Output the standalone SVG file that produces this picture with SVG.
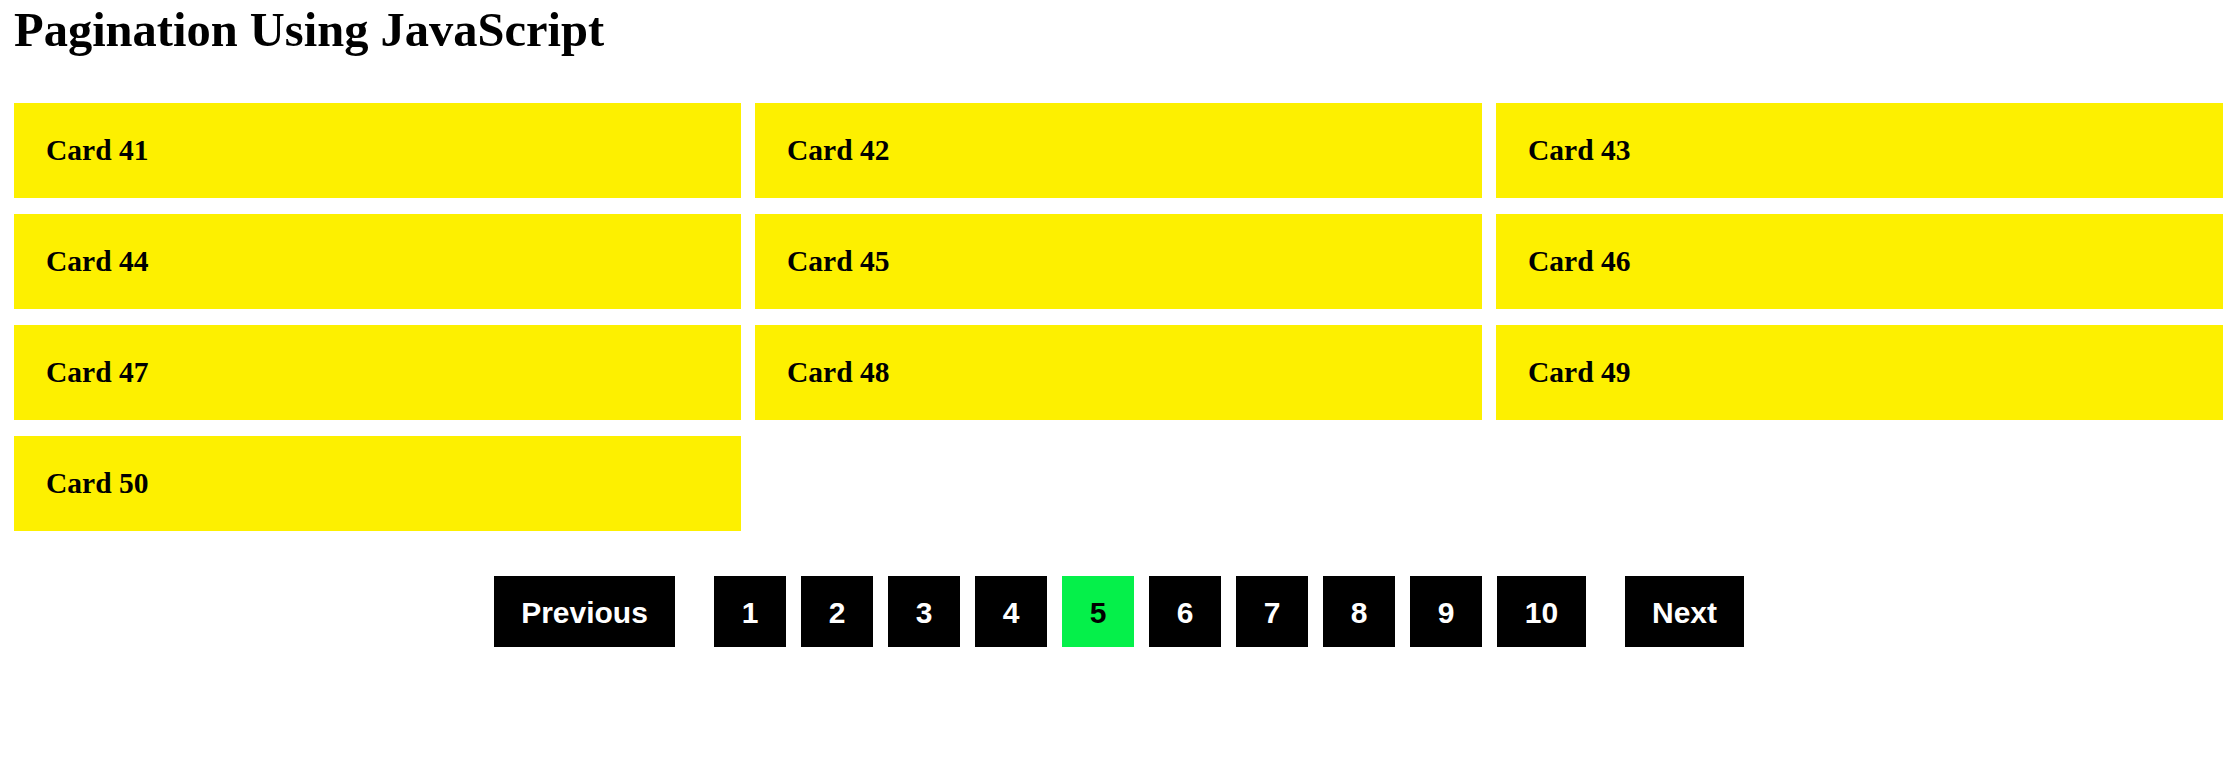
<svg xmlns="http://www.w3.org/2000/svg" width="2234" height="767" viewBox="0 0 2234 767">
<style>
.title{font-family:"Liberation Serif","Times New Roman",serif;font-weight:bold;font-size:48.5px;fill:#000}
.card rect{fill:#fdf000}
.card text{font-family:"Liberation Serif","Times New Roman",serif;font-weight:bold;font-size:29.5px;fill:#000}
.btn rect{fill:#000}
.btn text{font-family:"Liberation Sans",Arial,sans-serif;font-weight:bold;font-size:30px;fill:#fff;text-anchor:middle}
.btn.active rect{fill:#05f04a}
.btn.active text{fill:#000}
</style>
<rect width="2234" height="767" fill="#fff"/>
<text class="title" x="14" y="46">Pagination Using JavaScript</text>
<g id="card41" class="card"><rect x="14" y="103" width="727" height="95"/><text x="46" y="160">Card 41</text></g>
<g id="card42" class="card"><rect x="755" y="103" width="727" height="95"/><text x="787" y="160">Card 42</text></g>
<g id="card43" class="card"><rect x="1496" y="103" width="727" height="95"/><text x="1528" y="160">Card 43</text></g>
<g id="card44" class="card"><rect x="14" y="214" width="727" height="95"/><text x="46" y="271">Card 44</text></g>
<g id="card45" class="card"><rect x="755" y="214" width="727" height="95"/><text x="787" y="271">Card 45</text></g>
<g id="card46" class="card"><rect x="1496" y="214" width="727" height="95"/><text x="1528" y="271">Card 46</text></g>
<g id="card47" class="card"><rect x="14" y="325" width="727" height="95"/><text x="46" y="382">Card 47</text></g>
<g id="card48" class="card"><rect x="755" y="325" width="727" height="95"/><text x="787" y="382">Card 48</text></g>
<g id="card49" class="card"><rect x="1496" y="325" width="727" height="95"/><text x="1528" y="382">Card 49</text></g>
<g id="card50" class="card"><rect x="14" y="436" width="727" height="95"/><text x="46" y="493">Card 50</text></g>
<g id="btn-prev" class="btn"><rect x="494" y="576" width="181" height="71"/><text x="584.5" y="623">Previous</text></g>
<g id="btn-1" class="btn"><rect x="714" y="576" width="72" height="71"/><text x="750" y="623">1</text></g>
<g id="btn-2" class="btn"><rect x="801" y="576" width="72" height="71"/><text x="837" y="623">2</text></g>
<g id="btn-3" class="btn"><rect x="888" y="576" width="72" height="71"/><text x="924" y="623">3</text></g>
<g id="btn-4" class="btn"><rect x="975" y="576" width="72" height="71"/><text x="1011" y="623">4</text></g>
<g id="btn-5" class="btn active"><rect x="1062" y="576" width="72" height="71"/><text x="1098" y="623">5</text></g>
<g id="btn-6" class="btn"><rect x="1149" y="576" width="72" height="71"/><text x="1185" y="623">6</text></g>
<g id="btn-7" class="btn"><rect x="1236" y="576" width="72" height="71"/><text x="1272" y="623">7</text></g>
<g id="btn-8" class="btn"><rect x="1323" y="576" width="72" height="71"/><text x="1359" y="623">8</text></g>
<g id="btn-9" class="btn"><rect x="1410" y="576" width="72" height="71"/><text x="1446" y="623">9</text></g>
<g id="btn-10" class="btn"><rect x="1497" y="576" width="89" height="71"/><text x="1541.5" y="623">10</text></g>
<g id="btn-next" class="btn"><rect x="1625" y="576" width="119" height="71"/><text x="1684.5" y="623">Next</text></g>
<g id="connectors"></g>
</svg>
